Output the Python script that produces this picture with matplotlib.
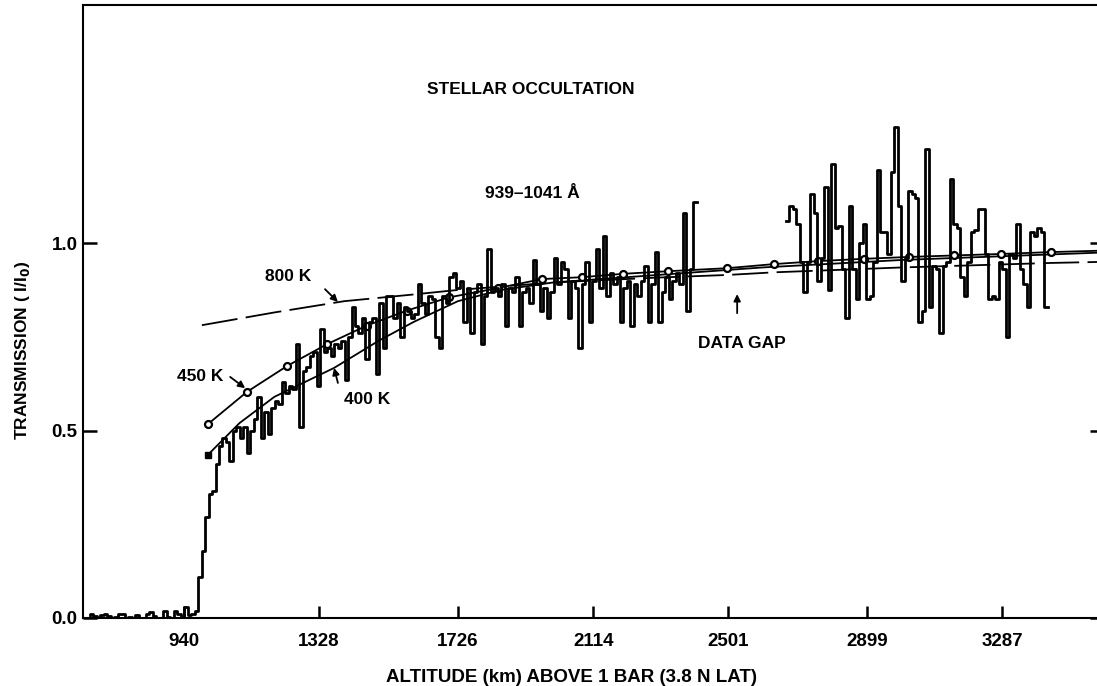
import numpy as np
import matplotlib
matplotlib.use("Agg")
import matplotlib.pyplot as plt

plt.rcParams['font.family'] = ['Liberation Sans', 'DejaVu Sans']
plt.rcParams['font.weight'] = 'bold'
plt.rcParams['lines.scale_dashes'] = False

# --- data ---
bin_km = 10
pre_start = 651          # km, flat part before the rise
pre_vals = [0.0, 0.0, 0.012, 0.005, 0.0, 0.008, 0.01, 0.006, 0.0, 0.004,
            0.012, 0.01, 0.0, 0.003, 0.0, 0.008, 0.0, 0.0, 0.012, 0.015,
            0.006, 0.0, 0.0, 0.018, 0.004, 0.0, 0.02, 0.01, 0.0, 0.03,
            0.008, 0.012, 0.02]

low_vals = [0.11, 0.18, 0.27, 0.33, 0.34, 0.41, 0.46, 0.48, 0.47, 0.42,
            0.50, 0.51, 0.48, 0.51, 0.44, 0.50, 0.53, 0.59, 0.48, 0.55,
            0.49, 0.56, 0.58, 0.57, 0.63, 0.60, 0.62, 0.61, 0.73, 0.51,
            0.66, 0.67, 0.70, 0.71, 0.62, 0.77, 0.71, 0.72, 0.70, 0.73,
            0.72, 0.74, 0.635, 0.75, 0.83, 0.78, 0.76, 0.80, 0.69, 0.79,
            0.80, 0.65, 0.84, 0.72, 0.86, 0.86, 0.80, 0.84, 0.75, 0.83,
            0.82, 0.80, 0.81, 0.89, 0.84, 0.81, 0.86, 0.85, 0.75, 0.72,
            0.86, 0.84, 0.91, 0.92, 0.88, 0.90, 0.79, 0.88, 0.76, 0.87,
            0.89, 0.73, 0.86, 0.985, 0.87, 0.88, 0.86, 0.89, 0.78, 0.88,
            0.87, 0.91, 0.78, 0.87, 0.88, 0.84, 0.955, 0.89, 0.82, 0.88,
            0.80, 0.87, 0.96, 0.89, 0.95, 0.93, 0.80, 0.90, 0.88, 0.72,
            0.89, 0.95, 0.79, 0.90, 0.985, 0.88, 1.02, 0.86, 0.92, 0.89,
            0.91, 0.79, 0.88, 0.90, 0.78, 0.89, 0.86, 0.90, 0.94, 0.79,
            0.89, 0.975, 0.79, 0.87, 0.91, 0.85, 0.90, 0.92, 0.89, 1.08,
            0.82, 0.93, 1.11]

high_start = 2667        # km, data resumes after the gap
high_vals = [1.06, 1.10, 1.09, 1.05, 0.95, 0.87, 0.95, 1.13, 1.08, 0.90,
             0.96, 1.15, 0.875, 1.21, 1.04, 1.045, 0.93, 0.80, 1.10, 0.93,
             0.85, 1.00, 1.05, 0.85, 0.86, 0.95, 1.195, 1.03, 1.03, 0.97,
             1.19, 1.31, 1.10, 0.90, 0.96, 1.14, 1.13, 1.12, 0.79, 0.82,
             1.25, 0.83, 0.94, 0.93, 0.76, 0.94, 0.95, 1.17, 1.05, 1.04,
             0.91, 0.86, 0.95, 1.03, 1.035, 1.09, 1.09, 0.97, 0.85, 0.86,
             0.85, 0.95, 0.93, 0.75, 0.97, 0.96, 1.05, 0.93, 0.89, 0.83,
             1.03, 1.02, 1.04, 1.03, 0.83]

# model curves
alt_450 = [1009, 1121, 1236, 1350, 1465, 1580, 1700, 1841, 1967, 2082,
           2200, 2330, 2498, 2633, 2760, 2890, 3020, 3150, 3284, 3427, 3580]
tr_450 = [0.517, 0.603, 0.672, 0.73, 0.78, 0.82, 0.855, 0.88, 0.904, 0.909,
          0.918, 0.925, 0.933, 0.944, 0.952, 0.958, 0.963, 0.967, 0.971, 0.976, 0.98]
alt_400 = [1009, 1100, 1200, 1371, 1500, 1600, 1726, 1850, 2000, 2300, 2600, 3000, 3580]
tr_400 = [0.435, 0.52, 0.59, 0.667, 0.74, 0.79, 0.845, 0.875, 0.895, 0.915, 0.935, 0.955, 0.975]
alt_800 = [992, 1200, 1400, 1589, 1726, 2000, 2300, 2500, 2633, 3000, 3427, 3580]
tr_800 = [0.781, 0.815, 0.845, 0.862, 0.875, 0.895, 0.908, 0.915, 0.922, 0.935, 0.947, 0.95]

xticks = [940, 1328, 1726, 2114, 2501, 2899, 3287]
yticks = [0.0, 0.5, 1.0]
yticklabels = ['0.0', '0.5', '1.0']

# --- figure ---
fig = plt.figure(figsize=(10.97, 6.86), dpi=100)
ax = fig.add_axes([83 / 1097, 68 / 686, 1021 / 1097, 613 / 686])
ax.set_xlim(651, 3579)
ax.set_ylim(0, 1.635)

# observed transmission (step trace)
seg1 = pre_vals + low_vals
x1 = pre_start + bin_km * np.arange(len(seg1) + 1)
ax.step(x1, np.append(seg1, seg1[-1]), where='post', color='k', lw=2.0, zorder=3)
x2 = high_start + bin_km * np.arange(len(high_vals) + 1)
ax.step(x2, np.append(high_vals, high_vals[-1]), where='post', color='k', lw=2.0, zorder=3)

# model curves
ax.plot(alt_800, tr_800, color='k', lw=1.3, dashes=(26, 6), zorder=2)
ax.plot(alt_400, tr_400, color='k', lw=1.3, zorder=2)
ax.plot(alt_400[:1], tr_400[:1], 's', color='k', ms=4, zorder=2)
ax.plot(alt_450, tr_450, color='k', lw=1.3, marker='o', ms=5, mfc='white',
        mec='k', mew=1.6, zorder=2)

# text annotations
fs = 12.5
ax.text(1936, 1.41, 'STELLAR OCCULTATION', ha='center', va='center', fontsize=fs)
ax.text(1939, 1.133, '939\u20131041 Å', ha='center', va='center', fontsize=fs)
arrow = dict(arrowstyle='-|>', color='k', lw=1.3, mutation_scale=10, shrinkA=0, shrinkB=0)
ax.text(1239, 0.912, '800 K', ha='center', va='center', fontsize=fs)
ax.annotate('', xy=(1382, 0.843), xytext=(1345, 0.877), arrowprops=arrow)
ax.text(986, 0.645, '450 K', ha='center', va='center', fontsize=fs)
ax.annotate('', xy=(1116, 0.613), xytext=(1073, 0.643), arrowprops=arrow)
ax.text(1465, 0.584, '400 K', ha='center', va='center', fontsize=fs)
ax.annotate('', xy=(1371, 0.667), xytext=(1382, 0.627), arrowprops=arrow)
ax.text(2541, 0.733, 'DATA GAP', ha='center', va='center', fontsize=fs)
ax.annotate('', xy=(2527, 0.864), xytext=(2527, 0.813), arrowprops=arrow)

# axes styling
for side in ['left', 'bottom', 'top', 'right']:
    ax.spines[side].set_linewidth(1.5)
ax.set_xticks(xticks)
ax.set_xticklabels([str(t) for t in xticks])
ax.set_yticks(yticks)
ax.set_yticklabels(yticklabels)
ax.tick_params(axis='x', direction='in', length=8.5, width=1.8, pad=11, labelsize=13.5)
ax.tick_params(axis='y', direction='in', length=10, width=1.8, pad=4, labelsize=13.5,
               right=True)

fig.text(572 / 1097, 1 - 677 / 686, 'ALTITUDE (km) ABOVE 1 BAR (3.8 N LAT)',
         ha='center', va='center', fontsize=13.5)
fig.text(22.5 / 1097, 1 - 350 / 686, 'TRANSMISSION ( I/I$_\\mathbf{0}$)',
         ha='center', va='center', rotation=90, fontsize=12.5)

fig.savefig('out.png', dpi=100)
